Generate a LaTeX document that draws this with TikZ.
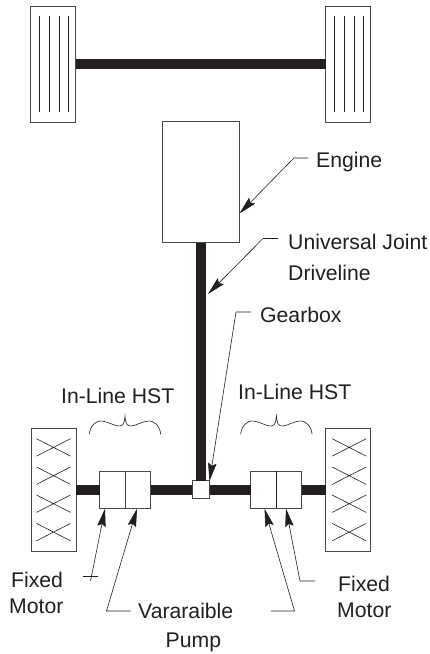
\documentclass[tikz,border=0pt]{standalone}
\usepackage{fontspec}
\setmainfont{Liberation Sans}
\usetikzlibrary{arrows.meta}
\definecolor{ink}{HTML}{231F20}
\definecolor{edge}{HTML}{4A4849}
\tikzset{
  box/.style={draw=edge,line width=.9pt,fill=white,inner sep=0pt,outer sep=0pt},
  tyre/.style={box,minimum width=45pt,minimum height=#1},
  hst/.style={box,minimum width=51pt,minimum height=37pt},
  shaft/.style={draw=ink,line width=10pt},
  fine/.style={draw=ink,line width=.6pt},
  leader/.style={fine,-{Stealth[length=18pt,width=8.5pt,inset=2.5pt]}},
  lbl/.style={anchor=base west,inner sep=0pt,text=ink,font=\fontsize{21.2}{24}\selectfont},
  tread/.pic={\foreach \i in {-13.6,-3.9,5.8,15.4}{\draw[fine] (\i,-48) -- (\i,48);}},
  cross/.pic={\draw[fine] (-17,-8.7) -- (17,8.7) (-17,8.7) -- (17,-8.7);},
  hstbrace/.pic={\draw[fine] (-35.7,18.3) .. controls (-35,9) and (-28,5) .. (-25,5)
    .. controls (-17,5) and (-11,10) .. (-6,10) .. controls (-2,10) and (-0.7,8) .. (0,0)
    .. controls (0.7,8) and (2,10) .. (6,10) .. controls (11,10) and (17,5) .. (25,5)
    .. controls (28,5) and (35,9) .. (35.7,18.3);}
}
\begin{document}
\begin{tikzpicture}[x=1pt,y=-1pt]
\useasboundingbox (0,0) rectangle (429,654);
% boxes
\node[tyre=115.5pt] (ftl) at (53.2,64.2) {};
\node[tyre=115.5pt] (ftr) at (348,64.2) {};
\node[box,minimum width=77.5pt,minimum height=121.7pt] (engine) at (200.75,182) {};
\node[tyre=123pt] (rtl) at (53.5,489.7) {};
\node[tyre=123pt] (rtr) at (348,489.7) {};
\node[hst] (hl) at (125,489.7) {};
\node[hst] (hr) at (276.4,489.7) {};
\node[box,minimum width=17.5pt,minimum height=18pt] (gear) at (200.75,489.7) {};
% tread marks
\pic at (ftl.center) {tread};
\pic at (ftr.center) {tread};
\foreach \d in {-42.4,-14,14,42.3}{
  \pic at ([yshift=\d pt]rtl.center) {cross};
  \pic at ([xshift=1.2pt,yshift=\d pt]rtr.center) {cross};
}
% shafts
\draw[shaft] (ftl) -- (ftr);
\draw[shaft] (engine) -- (gear);
\draw[shaft] (rtl) -- (hl);
\draw[shaft] (hl) -- (gear);
\draw[shaft] (gear) -- (hr);
\draw[shaft] (hr) -- (rtr);
% dividers
\draw[draw=edge,line width=1pt] (hl.north) -- (hl.south);
\draw[draw=ink,line width=.9pt] (hr.north) -- (hr.south);
% braces
\pic at (125,416) {hstbrace};
\pic at (276.4,416) {hstbrace};
% labels
\node[lbl] (tengine) at (316,167) {Engine};
\node[lbl] (tuj) at (288,249.5) {Universal Joint};
\node[lbl] (tdl) at (288,280) {Driveline};
\node[lbl] (tgear) at (260,322.7) {Gearbox};
\node[lbl] (thl) at (61,403) {In-Line HST};
\node[lbl] (thr) at (238,399) {In-Line HST};
\node[lbl] (tfl1) at (11,587) {Fixed};
\node[lbl] (tfl2) at (9,613) {Motor};
\node[lbl] (tfr1) at (338,591.5) {Fixed};
\node[lbl] (tfr2) at (337,617.7) {Motor};
\node[lbl] (tv) at (138,618) {Vararaible};
\node[lbl] (tp) at (165.5,647) {Pump};
% leaders
\coordinate (ea) at (308,158); \coordinate (eb) at (294,158);
\draw[leader] (ea) -- (eb) -- (239.5,213.5);
\coordinate (ua) at (278,238.5); \coordinate (ub) at (263,238.5);
\draw[leader] (ua) -- (ub) -- (208,294);
\coordinate (ga) at (251,312); \coordinate (gb) at (236,312);
\draw[leader] (ga) -- (gb) -- (209.5,481);
\coordinate (ma) at (90.5,581);
\draw[leader] (ma) -- (105,508.7);
\coordinate (mt1) at (83,576); \coordinate (mt2) at (98,576);
\draw[fine] (mt1) -- (mt2);
\coordinate (pa) at (130.5,611); \coordinate (pb) at (106.5,611);
\draw[leader] (pa) -- (pb) -- (137,508.7);
\coordinate (qa) at (271,611); \coordinate (qb) at (294.5,611);
\draw[leader] (qa) -- (qb) -- (264.5,508.7);
\coordinate (ra) at (315,581); \coordinate (rb) at (300,581);
\draw[leader] (ra) -- (rb) -- (286,508.7);
\end{tikzpicture}
\end{document}
